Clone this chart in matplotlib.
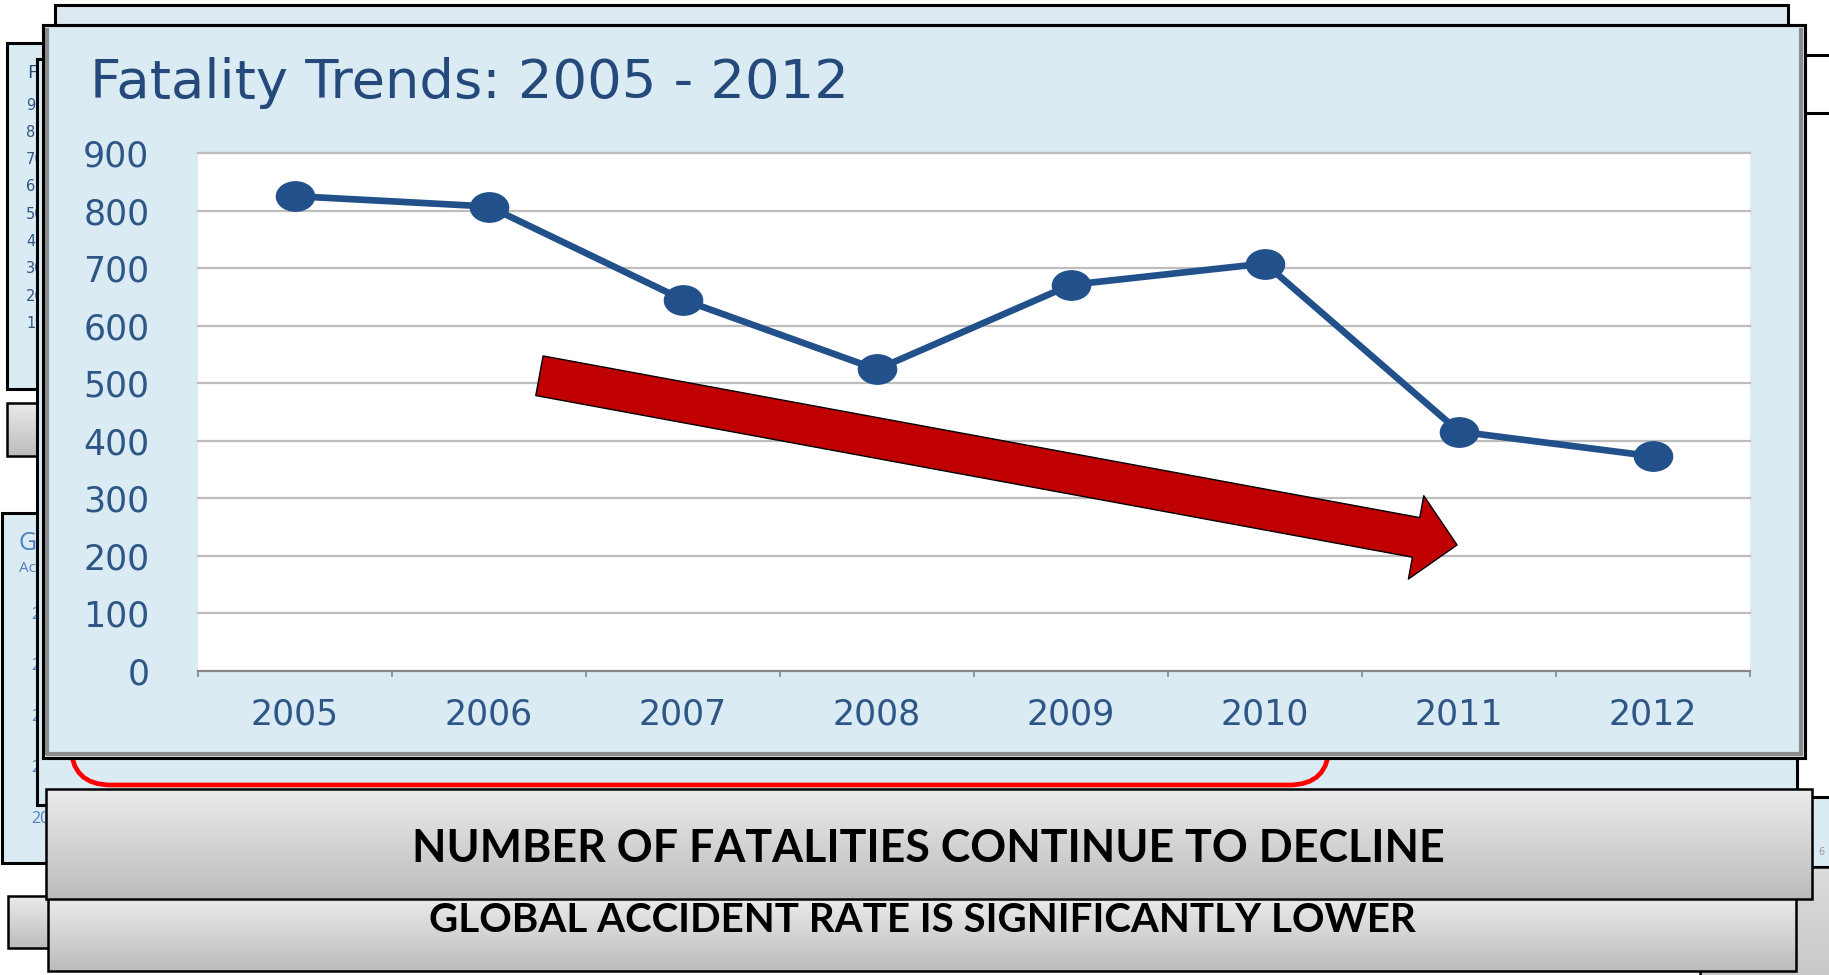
import numpy as np
import matplotlib
matplotlib.use("Agg")
import matplotlib.pyplot as plt
from matplotlib.patches import Rectangle, FancyBboxPatch, FancyArrowPatch, ArrowStyle
from matplotlib.path import Path
from matplotlib.font_manager import FontProperties
import matplotlib.colors as mcolors

# ---------------- data ----------------
years = ["2005", "2006", "2007", "2008", "2009", "2010", "2011", "2012"]
fatalities = [825, 807, 645, 524, 671, 708, 416, 373]
y_ticks = [0, 100, 200, 300, 400, 500, 600, 700, 800, 900]
title_text = "Fatality Trends: 2005 - 2012"
banner_main = "NUMBER OF FATALITIES CONTINUE TO DECLINE"
banner_second = "GLOBAL ACCIDENT RATE IS SIGNIFICANTLY LOWER"
back_chart_ticks = ["900", "800", "700", "600", "500", "400", "300", "200", "100"]
back_chart_years = ["2011", "2010", "2009", "2008", "2007"]
trend_start = (1.26, 513)   # trend arrow, data coords
trend_end = (5.99, 219)

banner_fp = FontProperties(family="Lato", weight="bold")

W, H = 1829, 975
fig = plt.figure(figsize=(W / 100, H / 100), dpi=100)
fig.patch.set_facecolor("white")
bg = fig.add_axes([0, 0, 1, 1], zorder=0)
bg.set_xlim(0, W)
bg.set_ylim(H, 0)
bg.axis("off")

PANEL = "#DAEBF3"
PANEL2 = "#DDE8F2"
LINE = "#21508A"
TXT = "#2E5687"
TITLE = "#24497A"


def rect(x0, y0, x1, y1, fc, ec="black", lw=2.2, z=1):
    bg.add_patch(Rectangle((x0, y0), x1 - x0, y1 - y0, facecolor=fc,
                           edgecolor=ec, linewidth=lw, zorder=z))


def grad_rect(x0, y0, x1, y1, z, top="#EBEBEB", bottom="#BCBCBC", lw=1.8):
    c0 = np.array(mcolors.to_rgb(top))
    c1 = np.array(mcolors.to_rgb(bottom))
    t = np.linspace(0, 1, 256)[:, None, None]
    img = c0 * (1 - t) + c1 * t
    bg.imshow(img, extent=(x0, x1, y1, y0), aspect="auto", zorder=z,
              interpolation="bilinear")
    rect(x0, y0, x1, y1, "none", lw=lw, z=z + 0.01)


# ---- back-left slide pieces ----
rect(7, 43, 600, 389, PANEL, z=1)
bg.text(27, 73, "F", fontfamily="Open Sans", fontsize=14, color=TITLE, va="center", zorder=1.2)
for i, lab in enumerate(back_chart_ticks):
    bg.text(26, 105 + i * 27.3, lab, fontsize=10.5, color=TXT, va="center", zorder=1.2)
grad_rect(7, 403, 200, 456, z=1.3)

rect(2, 513, 600, 863, PANEL, z=1)
bg.text(18, 543, "G", fontfamily="Open Sans", fontsize=18, color="#4F81BD", va="center", zorder=1.2)
bg.text(19, 569, "Ac", fontfamily="Open Sans", fontsize=11, color="#4F81BD", va="center", zorder=1.2)
for i, lab in enumerate(back_chart_years):
    bg.text(31, 615 + i * 51, lab, fontfamily="Open Sans", fontsize=11.5, color="#4F81BD",
            va="center", zorder=1.2)
grad_rect(8, 896, 200, 948, z=1.3)

# ---- top back slide ----
rect(55, 5, 1788, 300, PANEL2, z=3)

# ---- right side pieces ----
rect(1700, 55, 1860, 113, "white", z=3)
rect(1700, 797, 1860, 867, PANEL, z=3)
bg.text(1818, 857, "6", fontsize=7, color="#999999", va="bottom", zorder=3.1)
grad_rect(1700, 867, 1860, 1000, z=3.2, top="#DCDCDC", bottom="#C4C4C4")

# ---- slide behind main (with red rounded box) ----
rect(37, 59, 1797, 805, PANEL, z=4)
bg.add_patch(FancyBboxPatch((71, 300), 1258, 485,
                            boxstyle="round,pad=0,rounding_size=40",
                            facecolor="none", edgecolor="#FF0000", linewidth=3.4, zorder=5))

# ---- main frame ----
rect(43, 25, 1805, 758, PANEL, z=6)
bg.plot([47, 47], [28, 755], color="#8C8C8C", lw=3, zorder=6.1, solid_capstyle="butt")
bg.plot([1801, 1801], [28, 755], color="#8C8C8C", lw=3, zorder=6.1, solid_capstyle="butt")
bg.plot([46, 1803], [754, 754], color="#8C8C8C", lw=3, zorder=6.1, solid_capstyle="butt")
rect(43, 25, 1805, 758, "none", z=6.2)

title = bg.text(90, 98, title_text, fontfamily="DejaVu Sans", fontsize=34, color=TITLE,
                va="baseline", ha="left", zorder=6.3)

# ---- banners ----
grad_rect(48, 898, 1796, 971, z=7)
t2 = bg.text(922, 921, banner_second, fontproperties=banner_fp,
             fontsize=26, color="black", ha="center", va="center", zorder=7.2)
grad_rect(46, 789, 1812, 899, z=8)
t1 = bg.text(928, 849, banner_main, fontproperties=banner_fp,
             fontsize=30, color="black", ha="center", va="center", zorder=8.2)

# fit text widths
renderer = fig.canvas.get_renderer()
for t, target in [(title, 759), (t1, 1031), (t2, 985)]:
    bb = t.get_window_extent(renderer)
    t.set_fontsize(t.get_fontsize() * target / bb.width)

bg.set_xlim(0, W)
bg.set_ylim(H, 0)

# ---------------- chart ----------------
ax = fig.add_axes([198 / W, (H - 671) / H, 1552 / W, 518 / H], zorder=2)
ax.set_facecolor("white")
x = np.arange(len(years))

circ = Path.unit_circle()
ell = Path(circ.vertices * np.array([1.3, 1.0]), circ.codes)

ax.plot(x, fatalities, color=LINE, lw=4.8, marker=ell, ms=27.5, mfc=LINE, mec=LINE,
        zorder=4, clip_on=False)

ax.set_xlim(-0.5, len(years) - 0.5)
ax.set_ylim(0, 900)
ax.set_yticks(y_ticks)
ax.set_yticklabels([str(v) for v in y_ticks])
ax.set_xticks(x)
ax.set_xticklabels(years)
ax.set_xticks(np.arange(-0.5, len(years), 1), minor=True)
ax.tick_params(axis="x", which="major", length=0, pad=19, labelsize=25, labelcolor=TXT)
ax.tick_params(axis="x", which="minor", length=4.5, width=1.2, color="#868686", direction="out")
ax.tick_params(axis="y", which="both", length=0, pad=35, labelsize=25, labelcolor=TXT)
for s in ["top", "right", "left"]:
    ax.spines[s].set_visible(False)
ax.spines["bottom"].set_color("#868686")
ax.spines["bottom"].set_linewidth(1.5)
ax.grid(axis="y", color="#BDBDBD", lw=1.6)
ax.set_axisbelow(True)
for gl in ax.get_ygridlines():
    gl.set_clip_on(False)

arrow = FancyArrowPatch(trend_start, trend_end,
                        arrowstyle=ArrowStyle("simple", head_length=30, head_width=61, tail_width=29),
                        mutation_scale=1, shrinkA=0, shrinkB=0,
                        facecolor="#C00000", edgecolor="black", linewidth=1.0, zorder=3)
ax.add_patch(arrow)

fig.savefig("out.png", dpi=100)
